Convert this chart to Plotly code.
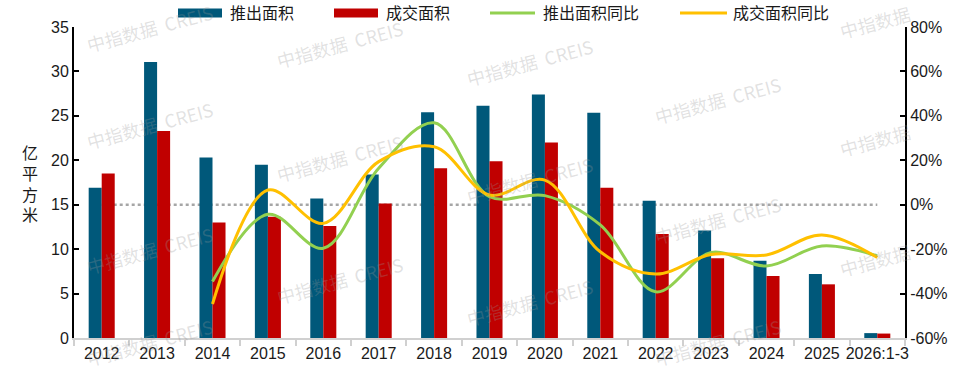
import plotly.graph_objects as go

categories = ["2012", "2013", "2014", "2015", "2016", "2017", "2018", "2019",
              "2020", "2021", "2022", "2023", "2024", "2025", "2026:1-3"]
supply_area = [16.9, 31.05, 20.3, 19.5, 15.7, 18.4, 25.4, 26.15, 27.4, 25.35,
               15.45, 12.1, 8.7, 7.2, 0.55]
sales_area = [18.5, 23.3, 13.0, 13.65, 12.6, 15.15, 19.1, 19.9, 22.0, 16.9,
              11.7, 8.97, 6.98, 6.04, 0.5]
supply_yoy = [None, None, -34.6, -4.3, -19.6, 16.4, 36.9, 3.6, 4.1, -9.1,
              -39.2, -21.5, -27.6, -18.6, -23.1]
sales_yoy = [None, None, -44.7, 6.6, -8.4, 19.4, 26.1, 4.4, 11.1, -21.2,
             -31.2, -22.4, -22.6, -13.6, -23.8]
series_names = ["推出面积", "成交面积", "推出面积同比", "成交面积同比"]
left_ticks = [0, 5, 10, 15, 20, 25, 30, 35]
right_ticks = [-60, -40, -20, 0, 20, 40, 60, 80]
right_tick_labels = ["-60%", "-40%", "-20%", "0%", "20%", "40%", "60%", "80%"]
y_title = "亿平方米"
watermark = "中指数据  CREIS"
watermark_short = "中指数据"

BLUE = "#00587A"
RED = "#C00000"
GREEN = "#92D050"
YELLOW = "#FFC000"
FONT = "Liberation Sans, Arial, Noto Sans CJK SC, sans-serif"

# plot area in screen pixels (body margin removed by post_script)
PL, PT, PW, PH = 74, 27, 831, 311
W, H = 970, 374
L, T = PL, PT
R = W - L - PW
B = H - T - PH


def px(x):
    return (x - PL) / PW


def py(y):
    return (PT + PH - y) / PH


fig = go.Figure()
fig.add_trace(go.Bar(x=categories, y=supply_area, name=series_names[0],
                     marker=dict(color=BLUE, line=dict(width=0)), yaxis="y"))
fig.add_trace(go.Bar(x=categories, y=sales_area, name=series_names[1],
                     marker=dict(color=RED, line=dict(width=0)), yaxis="y"))
fig.add_trace(go.Scatter(x=categories, y=supply_yoy, name=series_names[2],
                         mode="lines", line=dict(color=GREEN, width=3, shape="spline", smoothing=1.0),
                         yaxis="y2", connectgaps=False))
fig.add_trace(go.Scatter(x=categories, y=sales_yoy, name=series_names[3],
                         mode="lines", line=dict(color=YELLOW, width=3, shape="spline", smoothing=1.0),
                         yaxis="y2", connectgaps=False))

shapes = []
annotations = []

# zero reference dotted line on the right axis (from first to last category)
shapes.append(dict(type="line", xref="x", yref="y2", x0=0, x1=len(categories) - 1,
                   y0=0, y1=0, line=dict(color="#A6A6A6", width=2.5, dash="dot"),
                   layer="below"))

# custom legend
leg_y = 13
legend_items = [
    ("rect", 178, 222, BLUE, 228, series_names[0]),
    ("rect", 334, 378, RED, 384, series_names[1]),
    ("line", 490, 535, GREEN, 541, series_names[2]),
    ("line", 680, 727, YELLOW, 731, series_names[3]),
]
for kind, x0, x1, col, tx, label in legend_items:
    if kind == "rect":
        shapes.append(dict(type="rect", xref="paper", yref="paper",
                           x0=px(x0), x1=px(x1), y0=py(leg_y + 4.5), y1=py(leg_y - 4.5),
                           fillcolor=col, line=dict(width=0)))
    else:
        shapes.append(dict(type="line", xref="paper", yref="paper",
                           x0=px(x0), x1=px(x1), y0=py(leg_y), y1=py(leg_y),
                           line=dict(color=col, width=3)))
    annotations.append(dict(xref="paper", yref="paper", x=px(tx), y=py(leg_y),
                            xanchor="left", yanchor="middle", showarrow=False,
                            text=label, font=dict(size=16, color="#1a1a1a", family=FONT)))

# y axis title (stacked characters)
annotations.append(dict(xref="paper", yref="paper", x=px(30), y=py(184),
                        xanchor="center", yanchor="middle", showarrow=False,
                        text="<br>".join(list(y_title)),
                        font=dict(size=16, color="#1a1a1a", family=FONT)))

# watermarks
wm_positions = [(150, 28), (150, 125), (150, 250), (150, 342),
                (340, 44), (340, 158), (340, 280),
                (530, 62), (530, 180), (530, 302),
                (718, 100), (718, 220), (718, 342)]
for (wx, wy) in wm_positions:
    annotations.append(dict(xref="paper", yref="paper", x=px(wx), y=py(wy),
                            xanchor="center", yanchor="middle", showarrow=False,
                            text=watermark, textangle=-15,
                            font=dict(size=18, color="rgba(150,150,150,0.28)",
                                      family="Noto Sans CJK SC, Liberation Sans, sans-serif")))
for (wx, wy) in [(875, 22), (875, 140), (875, 260)]:
    annotations.append(dict(xref="paper", yref="paper", x=px(wx), y=py(wy),
                            xanchor="center", yanchor="middle", showarrow=False,
                            text=watermark_short, textangle=-15,
                            font=dict(size=18, color="rgba(150,150,150,0.28)",
                                      family="Noto Sans CJK SC, Liberation Sans, sans-serif")))

fig.update_layout(
    width=W, height=H,
    margin=dict(l=L, r=R, t=T, b=B, pad=0, autoexpand=False),
    paper_bgcolor="white", plot_bgcolor="white",
    barmode="group", bargap=0.53, bargroupgap=0,
    showlegend=False,
    font=dict(family=FONT, size=16, color="#1a1a1a"),
    shapes=shapes,
    annotations=annotations,
    xaxis=dict(type="category", range=[-0.5, len(categories) - 0.5], automargin=False,
               tickangle=0, showline=True, linecolor="#D0D0D0", linewidth=1.5,
               ticks="outside", tickson="boundaries", ticklen=6, tickcolor="#D0D0D0",
               tickwidth=1.5, showgrid=False, zeroline=False,
               tickfont=dict(size=16, color="#1a1a1a")),
    yaxis=dict(range=[0, 35], tickvals=left_ticks, showline=True, linecolor="black",
               automargin=False, linewidth=2, ticks="inside", ticklen=5, tickcolor="black",
               tickwidth=2, showgrid=False, zeroline=False,
               tickfont=dict(size=16, color="#1a1a1a")),
    yaxis2=dict(range=[-60, 80], tickvals=right_ticks, ticktext=right_tick_labels,
                overlaying="y", side="right", showline=True, linecolor="black", linewidth=2,
                automargin=False, ticks="inside", ticklen=5, tickcolor="black", tickwidth=2,
                showgrid=False, zeroline=False, tickfont=dict(size=16, color="#1a1a1a")),
)

fig.write_html("out.html",
               config={"displayModeBar": False},
               post_script="document.body.style.margin='0';document.body.style.overflow='hidden';")
